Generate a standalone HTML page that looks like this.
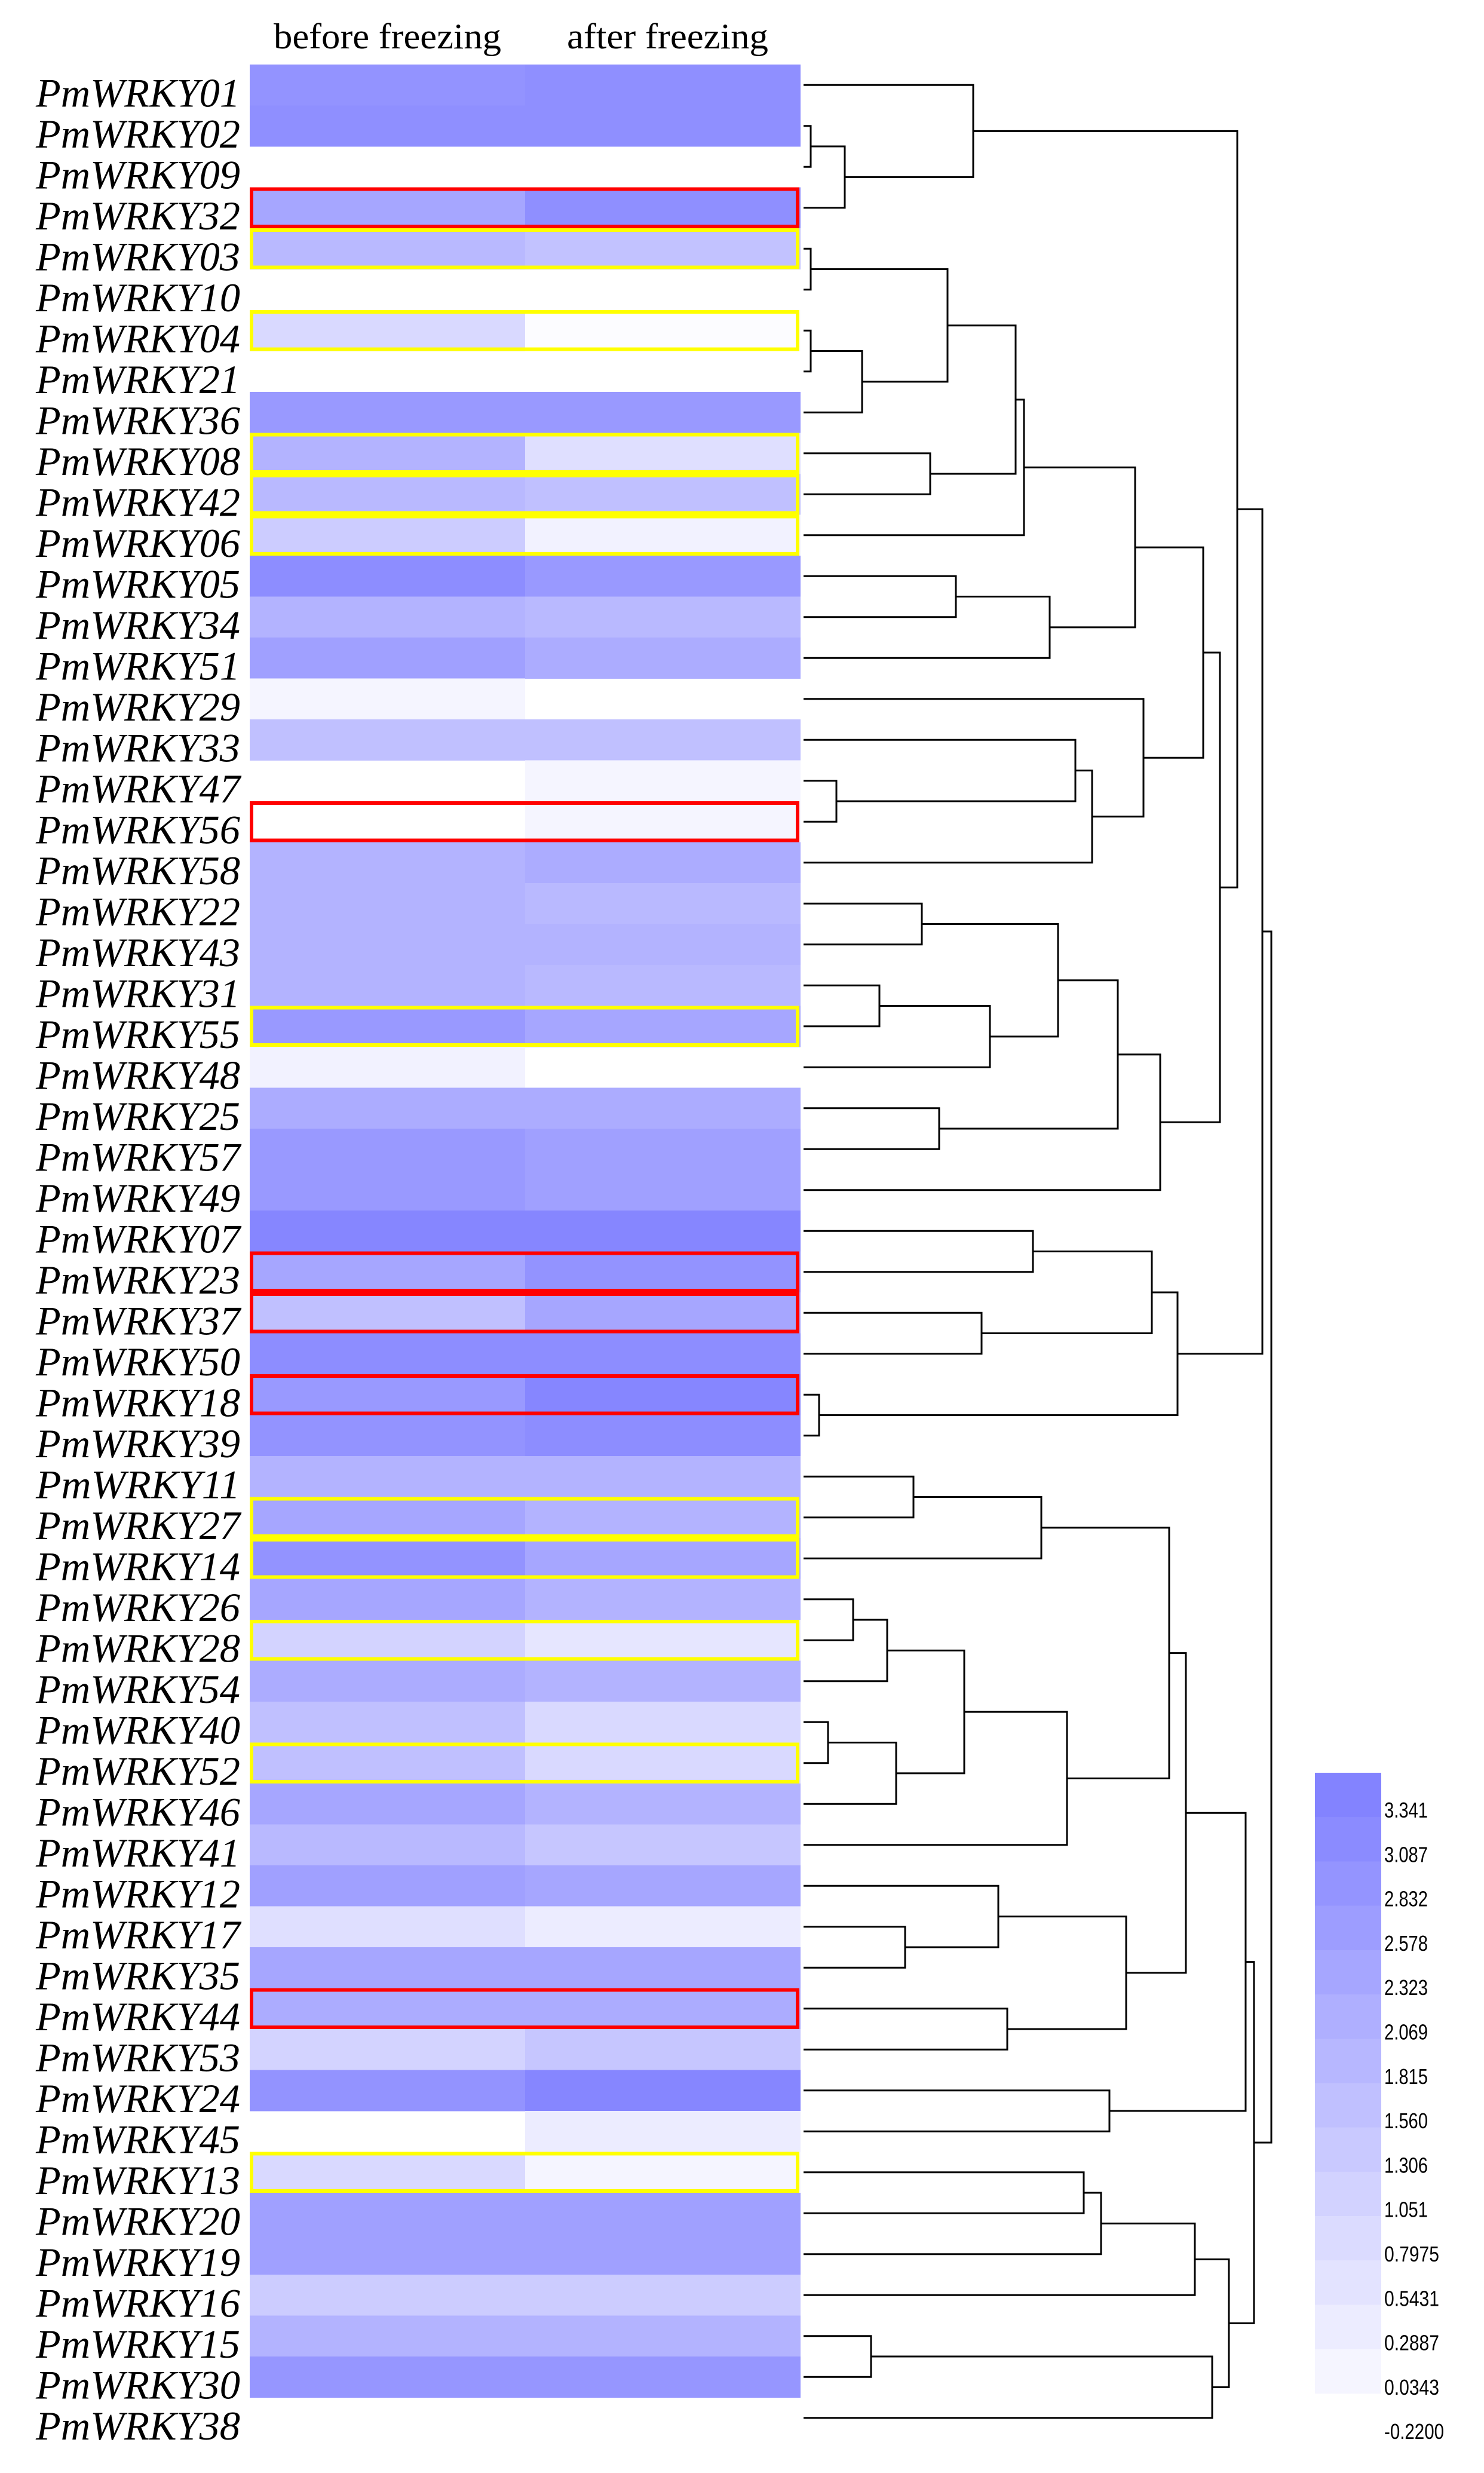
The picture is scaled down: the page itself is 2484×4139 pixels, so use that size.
<!DOCTYPE html>
<html><head><meta charset="utf-8">
<style>html,body{margin:0;padding:0;background:#fff;}svg{display:block;}</style>
</head><body>
<svg id="s" xmlns="http://www.w3.org/2000/svg" width="2484" height="4139" viewBox="0 0 2484 4139">
<rect width="2484" height="4139" fill="#fff"/>
<g id="heat"></g>
<g id="boxes" fill="none" stroke-width="6"></g>
<g id="labels" font-family="Liberation Serif, serif" font-style="italic" font-size="68" fill="#000"></g>
<text x="458" y="81" font-family="Liberation Serif, serif" font-size="60" textLength="381" lengthAdjust="spacingAndGlyphs">before freezing</text>
<text x="949" y="81" font-family="Liberation Serif, serif" font-size="60" textLength="337" lengthAdjust="spacingAndGlyphs">after freezing</text>
<g id="dendro" fill="none" stroke="#000" stroke-width="3"></g>
<g id="cbar"></g>
<g id="clab" font-family="Liberation Sans, sans-serif" font-size="36" fill="#000"></g>
</svg>
<script>
var names=["01","02","09","32","03","10","04","21","36","08","42","06","05","34","51","29","33","47","56","58","22","43","31","55","48","25","57","49","07","23","37","50","18","39","11","27","14","26","28","54","40","52","46","41","12","17","35","44","53","24","45","13","20","19","16","15","30","38"];
var vals=[[.85,.88],[.88,.88],[0,0],[.7,.88],[.55,.48],[0,0],[.3,.02],[0,0],[.8,.8],[.6,.25],[.55,.5],[.4,.1],[.9,.8],[.6,.55],[.75,.65],[.08,0],[.5,.5],[0,.08],[0,.08],[.6,.65],[.6,.55],[.6,.6],[.6,.55],[.8,.7],[.1,0],[.65,.65],[.8,.75],[.8,.75],[.95,.95],[.7,.85],[.5,.7],[.9,.9],[.8,.95],[.85,.9],[.6,.6],[.7,.6],[.85,.7],[.7,.6],[.35,.2],[.65,.6],[.5,.3],[.5,.3],[.7,.6],[.55,.45],[.75,.7],[.25,.15],[.7,.7],[.65,.65],[.35,.45],[.85,.95],[0,.15],[.3,.08],[.75,.75],[.75,.75],[.4,.4],[.6,.6],[.83,.83]];
var box={3:"r",4:"y",6:"y",9:"y",10:"y",11:"y",18:"r",23:"y",29:"r",30:"r",32:"r",35:"y",36:"y",38:"y",41:"y",47:"r",51:"y"};
var NS="http://www.w3.org/2000/svg";
function el(p,t,a,txt){var e=document.createElementNS(NS,t);for(var k in a)e.setAttribute(k,a[k]);if(txt)e.textContent=txt;document.getElementById(p).appendChild(e);return e;}
function col(v){var c=Math.round(255-127*v);return "rgb("+c+","+c+",255)";}
var T=108,H=68.5;
for(var i=0;i<vals.length;i++){
 var y=T+H*i;
 if(vals[i][0]>0)el("heat","rect",{x:418,y:y,width:461,height:H+0.5,fill:col(vals[i][0])});
 if(vals[i][1]>0)el("heat","rect",{x:879,y:y,width:461,height:H+0.5,fill:col(vals[i][1])});
 if(box[i])el("boxes","rect",{x:421,y:y+3,width:914,height:H-6,stroke:box[i]=="r"?"#ff0000":"#ffff00"});
}
for(var i=0;i<names.length;i++){
 el("labels","text",{x:60,y:T+H*i+H/2+36,textLength:342,lengthAdjust:"spacingAndGlyphs"},"PmWRKY"+names[i]);
}
var X={},Y={};
for(var i=0;i<58;i++){X[i]=1345;Y[i]=T+H*(i+0.5);}
var nodes=[
["A",1,2,1357],["B","A",3,1414],["C",0,"B",1629],["D",4,5,1357],["E",6,7,1357],["F","E",8,1443],["G","D","F",1586],["H",9,10,1557],["I","G","H",1700],["J","I",11,1714],["K",12,13,1600],["L","K",14,1757],["M","J","L",1900],["N",17,18,1400],["O",16,"N",1800],["P","O",19,1828],["Q",15,"P",1914],["R","M","Q",2014],
["T",20,21,1543],["U",22,23,1472],["V","U",24,1657],["W","T","V",1771],["X",25,26,1572],["Y","W","X",1871],["S","Y",27,1942],["RS","R","S",2042],["CRS","C","RS",2071],
["Z",28,29,1729],["AA",30,31,1643],["AB","Z","AA",1928],["AC",32,33,1371],["AD","AB","AC",1971],["AE","CRS","AD",2113],
["AF",34,35,1529],["AG","AF",36,1743],["AH",37,38,1428],["AI","AH",39,1485],["AJ",40,41,1386],["AK","AJ",42,1500],["AL","AI","AK",1614],["AM","AL",43,1786],["AN","AG","AM",1957],
["AO",45,46,1515],["AP",44,"AO",1671],["AQ",47,48,1686],["AR","AP","AQ",1885],["AS","AN","AR",1985],["AT",49,50,1857],["AU","AS","AT",2085],
["AV",51,52,1814],["AW","AV",53,1843],["AX","AW",54,2000],["AY",55,56,1458],["AZ","AY",57,2029],["BA","AX","AZ",2057],["BB","AU","BA",2099],["BC","AE","BB",2128]];
nodes.forEach(function(n){
 var a=n[1],b=n[2],x=n[3];
 el("dendro","path",{d:"M"+X[a]+","+Y[a]+"H"+x+"V"+Y[b]+"H"+X[b]});
 X[n[0]]=x;Y[n[0]]=(Y[a]+Y[b])/2;
});
var labs=["3.341","3.087","2.832","2.578","2.323","2.069","1.815","1.560","1.306","1.051","0.7975","0.5431","0.2887","0.0343","-0.2200"];
var CT=2967,CB=74.2;
for(var k=0;k<14;k++){
 var v=1-k/13*0.92;
 el("cbar","rect",{x:2201,y:CT+k*CB,width:111,height:CB+0.5,fill:col(v*0.98)});
}
for(var k=0;k<15;k++){
 var w=labs[k].length==5?73:(labs[k].length==6?92:100);
 el("clab","text",{x:2317,y:3042+k*74.3,textLength:w,lengthAdjust:"spacingAndGlyphs"},labs[k]);
}
</script>
</body></html>
